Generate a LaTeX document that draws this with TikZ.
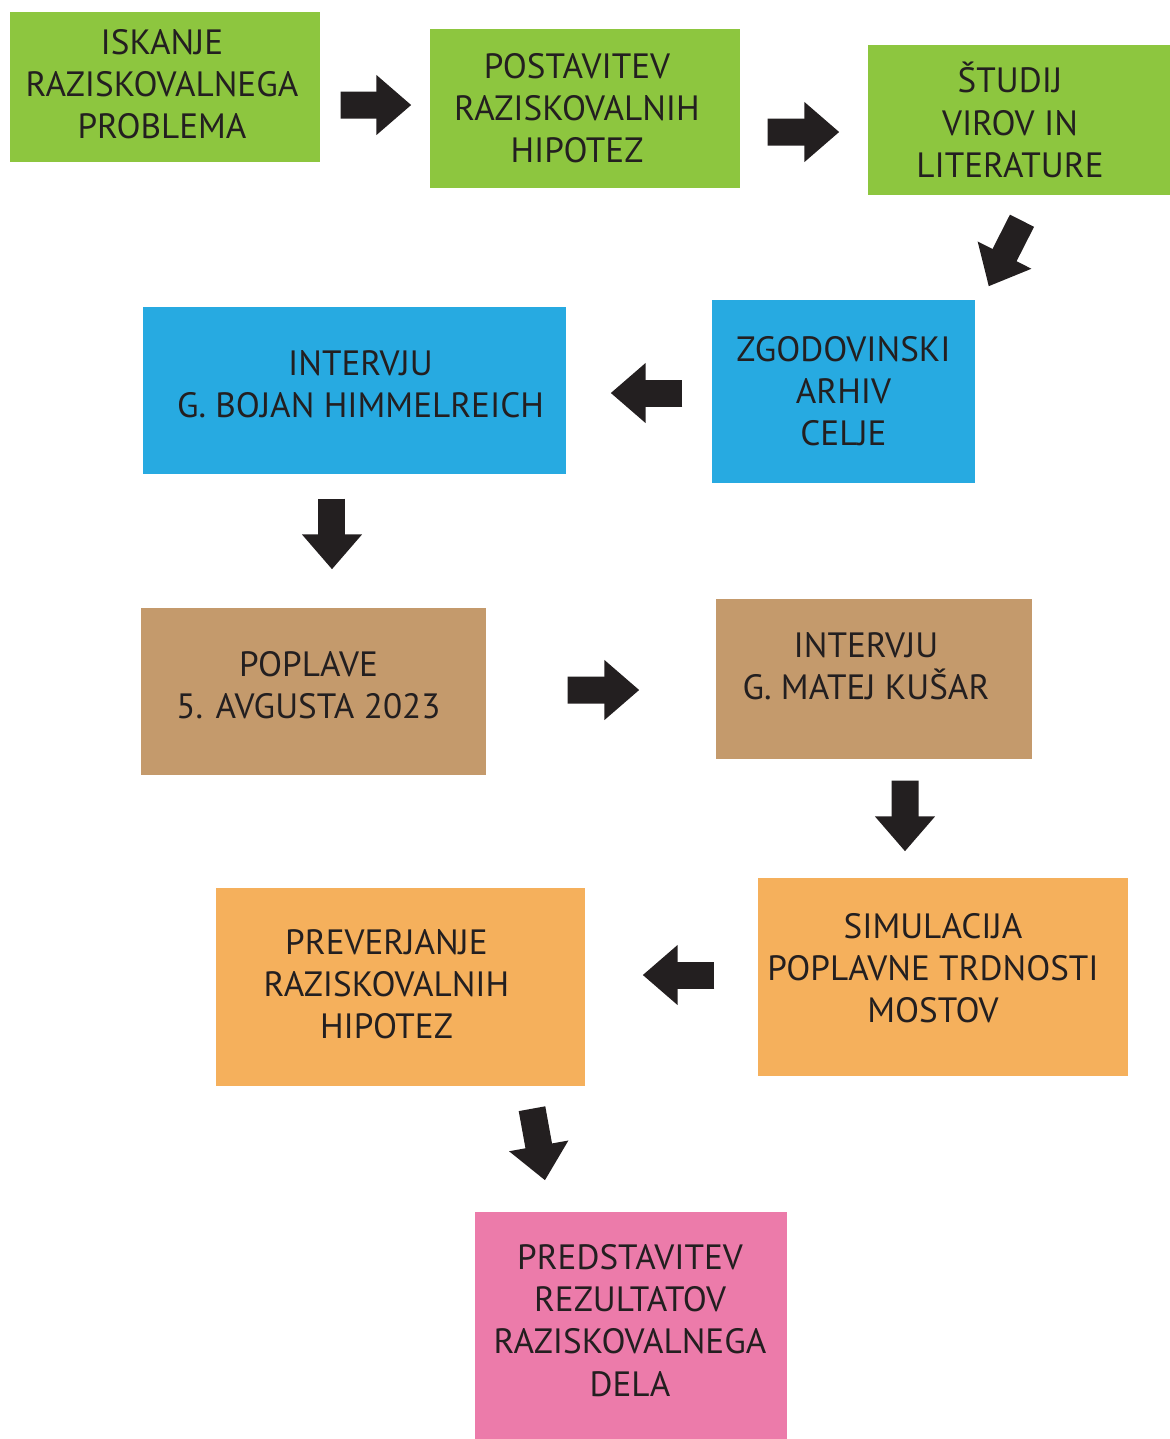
\documentclass[tikz,border=0pt]{standalone}
\usepackage{fontspec}
\setmainfont{PT Sans}
\usepackage{xcolor}
\usetikzlibrary{arrows.meta}

\definecolor{zelena}{RGB}{141,198,63}
\definecolor{modra}{RGB}{39,170,225}
\definecolor{rjava}{RGB}{196,154,108}
\definecolor{oranzna}{RGB}{245,176,92}
\definecolor{roza}{RGB}{236,123,170}
\definecolor{crna}{RGB}{35,31,32}

\tikzset{
  korak/.style={rectangle, inner sep=0pt},
  besedilo/.style={inner sep=0pt, align=center, text=crna,
    font=\fontsize{10}{12}\selectfont},
  puscica/.style={line width=0.27cm, draw=crna,
    -{Triangle[length=0.35cm,width=0.58cm]}}
}

\begin{document}
\begin{tikzpicture}
\useasboundingbox (0,0) rectangle (11.7,-14.39);

% prva vrsta
\node[korak, fill=zelena, minimum width=3.10cm, minimum height=1.50cm,
  label={[besedilo,xshift=-0.03cm,yshift=0.03cm]center:{ISKANJE\\RAZISKOVALNEGA\\PROBLEMA}}] (iskanje) at (1.65,-0.87) {};
\node[korak, fill=zelena, minimum width=3.10cm, minimum height=1.59cm,
  label={[besedilo,xshift=-0.08cm]center:{POSTAVITEV\\RAZISKOVALNIH\\HIPOTEZ}}] (postavitev) at (5.85,-1.085) {};
\node[korak, fill=zelena, minimum width=3.02cm, minimum height=1.50cm,
  label={[besedilo,xshift=-0.09cm]center:{ŠTUDIJ\\VIROV IN\\LITERATURE}}] (studij) at (10.19,-1.20) {};

% druga vrsta
\node[korak, fill=modra, minimum width=4.23cm, minimum height=1.67cm,
  label={[besedilo,xshift=0.06cm,yshift=0.06cm]center:{INTERVJU\\G. BOJAN HIMMELREICH}}] (bojan) at (3.545,-3.905) {};
\node[korak, fill=modra, minimum width=2.63cm, minimum height=1.83cm,
  label={[besedilo]center:{ZGODOVINSKI\\ARHIV\\CELJE}}] (arhiv) at (8.435,-3.915) {};

% tretja vrsta
\node[korak, fill=rjava, minimum width=3.45cm, minimum height=1.67cm,
  label={[besedilo,xshift=-0.05cm,yshift=0.06cm]center:{POPLAVE\\5. AVGUSTA 2023}}] (poplave) at (3.135,-6.915) {};
\node[korak, fill=rjava, minimum width=3.16cm, minimum height=1.60cm,
  label={[besedilo,xshift=-0.08cm,yshift=0.13cm]center:{INTERVJU\\G. MATEJ KUŠAR}}] (matej) at (8.74,-6.79) {};

% cetrta vrsta
\node[korak, fill=oranzna, minimum width=3.69cm, minimum height=1.98cm,
  label={[besedilo,xshift=-0.14cm,yshift=0.03cm]center:{PREVERJANJE\\RAZISKOVALNIH\\HIPOTEZ}}] (preverjanje) at (4.005,-9.87) {};
\node[korak, fill=oranzna, minimum width=3.70cm, minimum height=1.98cm,
  label={[besedilo,xshift=-0.10cm,yshift=0.09cm]center:{SIMULACIJA\\POPLAVNE TRDNOSTI\\MOSTOV}}] (simulacija) at (9.43,-9.77) {};

% zadnji
\node[korak, fill=roza, minimum width=3.12cm, minimum height=2.27cm,
  label={[besedilo,xshift=-0.01cm,yshift=0.05cm]center:{PREDSTAVITEV\\REZULTATOV\\RAZISKOVALNEGA\\DELA}}] (predstavitev) at (6.31,-13.255) {};

% puscice
\draw[puscica] ([xshift=0.20cm,yshift=-0.18cm]iskanje.east) -- ([xshift=-0.18cm,yshift=0.035cm]postavitev.west);
\draw[puscica] ([xshift=0.27cm,yshift=-0.235cm]postavitev.east) -- ([xshift=-0.28cm,yshift=-0.12cm]studij.west);
\draw[puscica] ([xshift=0.03cm,yshift=-0.25cm]studij.south) -- ([xshift=0.13cm,yshift=0.13cm]arhiv.north east);
\draw[puscica] ([xshift=-0.29cm,yshift=-0.015cm]arhiv.west) -- ([xshift=0.44cm,yshift=-0.025cm]bojan.east);
\draw[puscica] ([xshift=-0.225cm,yshift=-0.24cm]bojan.south) -- ([xshift=0.185cm,yshift=0.38cm]poplave.north);
\draw[puscica] ([xshift=0.81cm,yshift=0.015cm]poplave.east) -- ([xshift=-0.76cm,yshift=-0.11cm]matej.west);
\draw[puscica] ([xshift=0.31cm,yshift=-0.21cm]matej.south) -- ([xshift=-0.38cm,yshift=0.26cm]simulacija.north);
\draw[puscica] ([xshift=-0.43cm,yshift=0.02cm]simulacija.west) -- ([xshift=0.57cm,yshift=0.12cm]preverjanje.east);
\draw[puscica] ([xshift=1.315cm,yshift=-0.22cm]preverjanje.south) -- ([xshift=-0.86cm,yshift=0.31cm]predstavitev.north);
\end{tikzpicture}
\end{document}
